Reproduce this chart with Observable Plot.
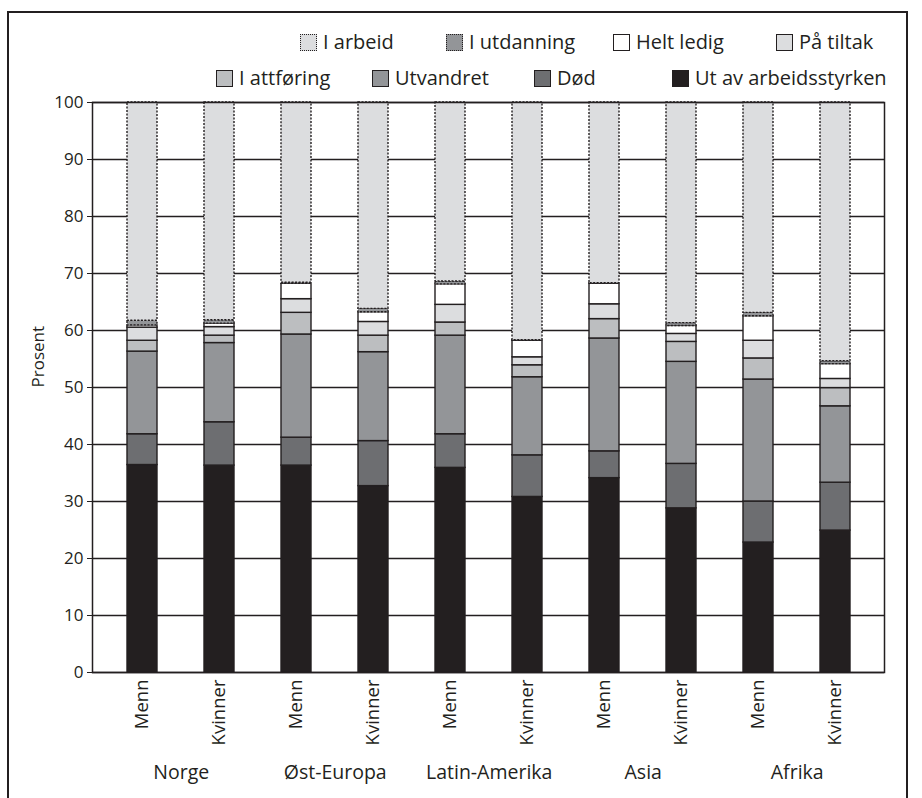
<!DOCTYPE html>
<html><head><meta charset="utf-8">
<script src="https://cdn.jsdelivr.net/npm/d3@7"></script>
<script src="https://cdn.jsdelivr.net/npm/@observablehq/plot@0.6"></script>
<style>
body{margin:0;background:#fff;font-family:"Open Sans",sans-serif;color:#231f20;}
#page{position:relative;width:922px;height:798px;overflow:hidden;background:#fff;}
#box{position:absolute;left:7px;top:11px;width:897px;height:840px;border:2px solid #231f20;}
.item{position:absolute;display:flex;align-items:center;font-size:20px;white-space:nowrap;height:22px;line-height:22px;}
.sw{width:17px;height:17px;border:1.4px solid #231f20;margin-right:6px;box-sizing:border-box;}
.sw.dot{border-style:dotted;}
#chart{position:absolute;left:0;top:92px;}
</style></head><body>
<div id="page"><div id="box"></div><div id="legend"></div><div id="chart"></div></div>
<script>
// ---- data ----
const regions = ["Norge", "Øst-Europa", "Latin-Amerika", "Asia", "Afrika"];
const genders = ["Menn", "Kvinner"];
// stacking order, bottom to top
const categories = ["Ut av arbeidsstyrken", "Død", "Utvandret", "I attføring", "På tiltak", "Helt ledig", "I utdanning", "I arbeid"];
// values per bar: Norge M, Norge K, Øst-Europa M, K, Latin-Amerika M, K, Asia M, K, Afrika M, K
const utAv      = [36.4, 36.3, 36.3, 32.7, 35.9, 30.8, 34.1, 28.8, 22.8, 24.9];
const dod       = [5.4, 7.6, 4.9, 7.9, 5.9, 7.3, 4.7, 7.8, 7.2, 8.4];
const utvandret = [14.5, 13.9, 18.1, 15.6, 17.3, 13.7, 19.8, 17.9, 21.4, 13.4];
const attforing = [1.9, 1.3, 3.8, 2.9, 2.3, 2.1, 3.4, 3.5, 3.7, 3.2];
const tiltak    = [2.3, 1.5, 2.4, 2.4, 3.1, 1.4, 2.6, 1.4, 3.1, 1.6];
const ledig     = [0.4, 0.6, 2.7, 1.7, 3.6, 2.9, 3.6, 1.4, 4.3, 2.6];
const utdanning = [0.8, 0.6, 0.2, 0.6, 0.5, 0.1, 0.1, 0.5, 0.6, 0.5];
const arbeid    = [38.3, 38.2, 31.6, 36.2, 31.4, 41.7, 31.7, 38.7, 36.9, 45.4];
const yTicks = [0, 10, 20, 30, 40, 50, 60, 70, 80, 90, 100];
const yLabel = "Prosent";

// ---- styles ----
const colors = ["#231f20", "#6d6e71", "#939598", "#bcbec0", "#dcdddf", "#ffffff", "#939598", "#dcdddf"];
const dottedCats = new Set(["I utdanning", "I arbeid"]);
const ink = "#231f20";

// ---- table ----
const seriesValues = [utAv, dod, utvandret, attforing, tiltak, ledig, utdanning, arbeid];
const keys = regions.flatMap(r => genders.map(g => r + "|" + g));
const rows = [];
keys.forEach((k, i) => {
  let acc = 0;
  categories.forEach((c, j) => {
    const v = seriesValues[j][i];
    rows.push({key: k, cat: c, y1: acc, y2: acc + v});
    acc += v;
  });
});

// ---- legend ----
const legendRows = [
  [["I arbeid", 300], ["I utdanning", 446], ["Helt ledig", 613], ["På tiltak", 776]],
  [["I attføring", 216], ["Utvandret", 372], ["Død", 534], ["Ut av arbeidsstyrken", 672]]
];
const legendTops = [31, 67];
const legend = document.getElementById("legend");
legendRows.forEach((row, ri) => {
  row.forEach(([name, left]) => {
    const it = document.createElement("div");
    it.className = "item";
    it.style.left = left + "px";
    it.style.top = legendTops[ri] + "px";
    const sw = document.createElement("span");
    sw.className = "sw" + (dottedCats.has(name) ? " dot" : "");
    sw.style.background = colors[categories.indexOf(name)];
    const t = document.createElement("span");
    t.textContent = name;
    it.appendChild(sw); it.appendChild(t);
    legend.appendChild(it);
  });
});

// ---- chart ----
const W = 922, H = 706, ML = 92, MR = 38, MT = 10, MB = 126;
const PI = 0.613, PO = 0.42;
const step = (W - ML - MR) / (keys.length - PI + 2 * PO);

const chart = Plot.plot({
  width: W, height: H,
  marginLeft: ML, marginRight: MR, marginTop: MT, marginBottom: MB,
  style: {fontFamily: "Open Sans", fontSize: "17px", color: ink, background: "transparent", overflow: "visible"},
  x: {domain: keys, paddingInner: PI, paddingOuter: PO, label: null},
  y: {domain: [0, 100], ticks: yTicks, label: null, tickSize: 5, tickPadding: 4},
  color: {domain: categories, range: colors},
  marks: [
    Plot.ruleY(yTicks, {stroke: ink, strokeWidth: 1.3}),
    Plot.barY(rows.filter(d => !dottedCats.has(d.cat)),
      {x: "key", y1: "y1", y2: "y2", fill: "cat", stroke: ink, strokeWidth: 1.4}),
    Plot.barY(rows.filter(d => dottedCats.has(d.cat)),
      {x: "key", y1: "y1", y2: "y2", fill: "cat", stroke: ink, strokeWidth: 1.4, strokeDasharray: "2,1.5"}),
    Plot.frame({stroke: ink, strokeWidth: 1.5}),
    Plot.axisY({ticks: yTicks, tickSize: 5, tickPadding: 4, label: null}),
    Plot.axisX({tickFormat: k => k.split("|")[1], tickRotate: -90, tickSize: 0, tickPadding: 7,
      fontSize: 18.5, label: null}),
    Plot.text([yLabel], {frameAnchor: "left", dx: -54, rotate: -90, fontSize: 17, fill: ink}),
    Plot.text(regions, {x: r => r + "|Menn", dx: step / 2, frameAnchor: "bottom", dy: 106,
      fontSize: 19.5, fill: ink})
  ]
});
document.getElementById("chart").appendChild(chart);
</script>
</body></html>
